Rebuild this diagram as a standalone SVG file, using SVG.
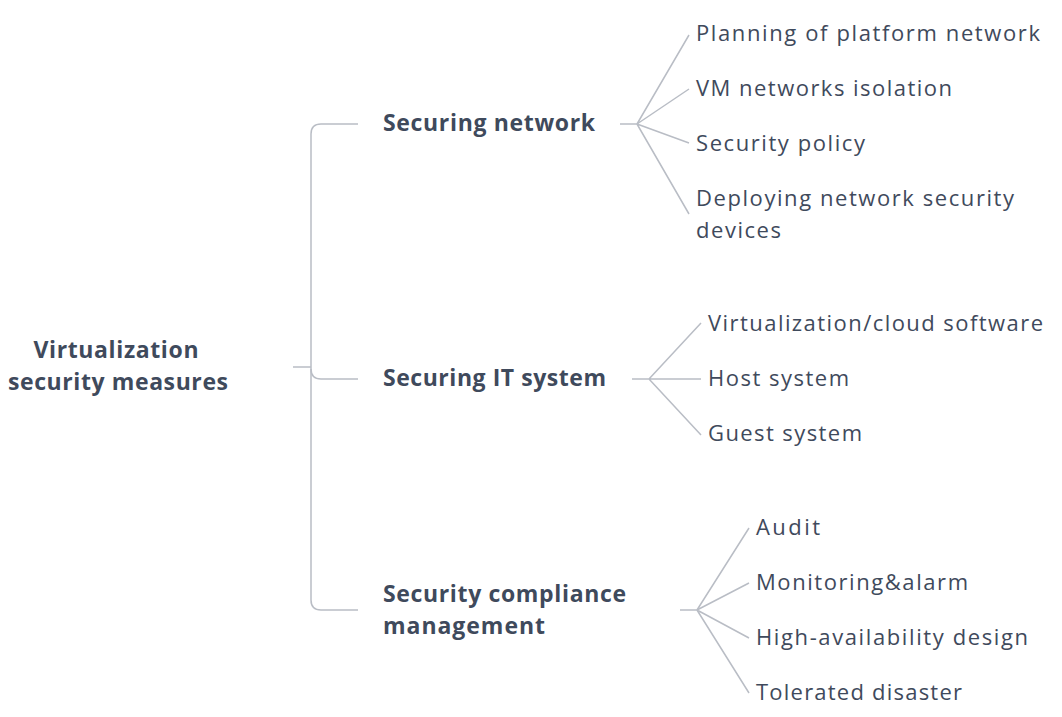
<svg xmlns="http://www.w3.org/2000/svg" width="1062" height="717" viewBox="0 0 1062 717">
<style>
.b{font-family:"Open Sans","Liberation Sans",sans-serif;font-weight:700;font-size:23px;fill:#3f4a5c}
.r{font-family:"Open Sans","Liberation Sans",sans-serif;font-weight:400;font-size:22px;fill:#3f4a5c}
.c{fill:none;stroke:#b9bdc5;stroke-width:1.5}
</style>
<rect width="1062" height="717" fill="#ffffff"/>
<g id="connectors">
<path class="c" d="M293,367 H311"/>
<path class="c" d="M358,124 H321 Q311,124 311,134 V600 Q311,610 321,610 H358"/>
<path class="c" d="M311,369 Q311,379 321,379 H358"/>
<path class="c" d="M620,124 H637 M637,124 L689,35 M637,124 L689,89 M637,124 L689,143 M637,124 L689,214"/>
<path class="c" d="M632,379 H701 M649,379 L701,323 M649,379 L701,435"/>
<path class="c" d="M680,610 H697 M697,610 L749,528 M697,610 L749,583 M697,610 L749,638 M697,610 L749,693"/>
</g>
<g id="root"><text class="b" text-anchor="middle"><tspan x="116" y="358" textLength="165">Virtualization</tspan><tspan x="118" y="390" textLength="220">security measures</tspan></text></g>
<g id="n1"><text class="b" x="383" y="131" textLength="212">Securing network</text></g>
<g id="n2"><text class="b" x="383" y="386" textLength="223">Securing IT system</text></g>
<g id="n3"><text class="b" x="383" y="602" textLength="243">Security compliance</text><text class="b" x="383" y="634" textLength="162">management</text></g>
<g id="n1a"><text class="r" x="696" y="41" textLength="344">Planning of platform network</text></g>
<g id="n1b"><text class="r" x="696" y="96" textLength="256">VM networks isolation</text></g>
<g id="n1c"><text class="r" x="696" y="151" textLength="169">Security policy</text></g>
<g id="n1d"><text class="r" x="696" y="206" textLength="318">Deploying network security</text><text class="r" x="696" y="238" textLength="85">devices</text></g>
<g id="n2a"><text class="r" x="708" y="331" textLength="335">Virtualization/cloud software</text></g>
<g id="n2b"><text class="r" x="708" y="386" textLength="141">Host system</text></g>
<g id="n2c"><text class="r" x="708" y="441" textLength="154">Guest system</text></g>
<g id="n3a"><text class="r" x="756" y="535" textLength="64">Audit</text></g>
<g id="n3b"><text class="r" x="756" y="590" textLength="212">Monitoring&amp;alarm</text></g>
<g id="n3c"><text class="r" x="756" y="645" textLength="272">High-availability design</text></g>
<g id="n3d"><text class="r" x="756" y="700" textLength="206">Tolerated disaster</text></g>
</svg>
